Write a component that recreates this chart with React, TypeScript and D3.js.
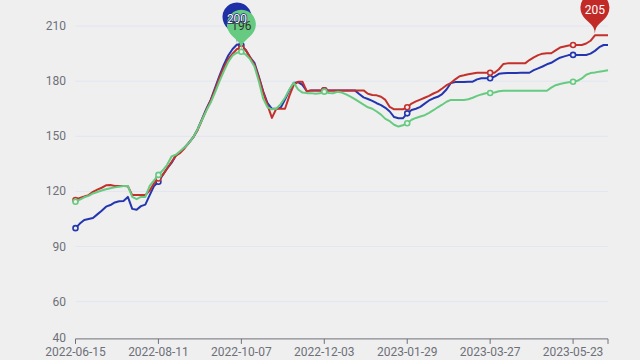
import React from 'react';
import * as d3 from 'd3';

// ---- data (one value every 3 days, starting 2022-06-15) ----
const startDate = '2022-06-15';
const dayStep = 3;
const xTickLabels = ['2022-06-15', '2022-08-11', '2022-10-07', '2022-12-03', '2023-01-29', '2023-03-27', '2023-05-23'];
const yTickValues = [40, 60, 90, 120, 150, 180, 210];

const blueValues = [
  100, 102.5, 104.5, 105, 105.5, 107.5, 109.5, 111.7, 112.6, 114,
  114.6, 114.8, 117, 110.5, 110, 112, 112.8, 118, 123, 125.3,
  129, 132.5, 135.5, 139.5, 141.5, 144, 146.5, 149.5, 154, 159.5,
  165, 170, 176.5, 183, 189, 194, 197.5, 200, 199.5, 197,
  193, 190, 182.5, 174.5, 168, 165, 165, 165.5, 170, 175,
  179, 179.5, 178, 174.5, 175, 175, 175, 175, 175, 175,
  175, 175, 175, 175, 175, 173, 171.2, 170.3, 169.3, 168,
  167, 165.5, 163.5, 160.5, 159.8, 159.8, 162.5, 164.3, 165, 166,
  167.8, 169.5, 170.7, 171.5, 173, 175.5, 179, 179.5, 179.5, 179.6,
  179.7, 179.7, 181, 181.6, 181.6, 181.6, 182.5, 184, 184.3, 184.4,
  184.5, 184.5, 184.6, 184.6, 184.6, 186, 187, 188, 189.2, 190,
  191.5, 192.8, 193.5, 194.2, 194.3, 194.3, 194.3, 194.3, 195, 196.5,
  198.5, 199.7, 199.7,
];

const redValues = [
  115.3, 116.5, 117.2, 118, 119.8, 121, 122, 123.3, 123.5, 123,
  123, 123, 122.8, 118, 118, 118, 118, 120.5, 124.5, 127,
  129, 132.5, 136, 139.5, 141, 143.5, 146.5, 149.5, 153.5, 159,
  164.5, 169.5, 175.5, 182, 187.5, 192, 195, 197.5, 198, 197,
  193, 189, 182, 174, 167, 160, 165, 165, 165, 172,
  178, 179.7, 179.7, 174.5, 175, 175, 175, 175, 175, 175,
  175, 175, 175, 175, 175, 175, 175, 173.2, 172.5, 172.3,
  171.5, 169.8, 166, 164.7, 164.7, 164.7, 165.8, 167.8, 169, 170,
  171, 172, 173.3, 174.3, 176, 177.8, 179, 181, 182.7, 183.2,
  183.8, 184.2, 184.6, 184.6, 184.6, 184.6, 184.6, 186.5, 189.3, 189.7,
  189.7, 189.7, 189.7, 189.7, 191.5, 193, 194.2, 195, 195.2, 195.2,
  196.8, 198.3, 198.9, 199.4, 199.7, 199.7, 199.7, 200.5, 202, 205,
  205, 205, 205,
];

const greenValues = [
  114.4, 115.5, 116.8, 117.6, 118.9, 119.7, 120.5, 121.2, 121.7, 122.2,
  122.6, 123, 123, 117, 115.8, 117, 117, 123, 126, 129,
  131.5, 134.5, 139, 140, 142, 144, 146.5, 149.5, 154, 159,
  164, 168.5, 174, 180, 185.5, 190.5, 194, 195.5, 196, 194.5,
  192, 188, 180, 170.5, 165.8, 164.7, 165, 167.5, 171, 175.5,
  179.2, 175.5, 173.8, 173.5, 173.5, 173.2, 173.4, 174.3, 173.6, 173.4,
  174.2, 173.8, 172.8, 171.6, 170.2, 168.7, 167.2, 165.8, 165, 163.5,
  161.8, 159.5, 158.2, 156.3, 155.3, 156, 157.1, 159, 160, 160.8,
  161.5, 162.8, 164.2, 165.8, 167.2, 168.8, 169.8, 169.8, 169.8, 169.8,
  170.2, 171, 172, 172.8, 173.4, 173.6, 173.8, 174.5, 174.8, 174.8,
  174.8, 174.8, 174.8, 174.8, 174.8, 174.8, 174.8, 174.8, 174.8, 176.5,
  177.8, 178.5, 179, 179.4, 179.7, 180.2, 181.5, 183.5, 184.4, 184.7,
  185.2, 185.5, 185.9,
];

const seriesList = [
  { name: 'blue', values: blueValues, color: '#2336b0', pin: '#1f30a6', labelFill: '#ffffff', labelStroke: '#1a237e' },
  { name: 'red', values: redValues, color: '#c4302b', pin: '#c22a27', labelFill: '#ffffff', labelStroke: 'none' },
  { name: 'green', values: greenValues, color: '#66cb80', pin: '#66cb80', labelFill: '#333333', labelStroke: 'none' },
];

function pinPath(x: number, y: number, r: number, h: number) {
  const dy = (r * r) / (h - r);
  const cy = y - h + r + dy;
  const angle = Math.asin(dy / r);
  const dx = Math.cos(angle) * r;
  const tanX = Math.sin(angle);
  const tanY = Math.cos(angle);
  const cpLen = r * 0.6;
  const cpLen2 = r * 0.7;
  const p = d3.path();
  p.moveTo(x - dx, cy + dy);
  p.arc(x, cy, r, Math.PI - angle, Math.PI * 2 + angle);
  p.bezierCurveTo(x + dx - tanX * cpLen, cy + dy + tanY * cpLen, x, y - cpLen2, x, y);
  p.bezierCurveTo(x, y - cpLen2, x - dx + tanX * cpLen, cy + dy + tanY * cpLen, x - dx, cy + dy);
  p.closePath();
  return { d: p.toString(), cy };
}

export default function App() {
  const W = 640;
  const H = 360;
  const left = 75.5;
  const right = 608;
  const bottom = 338.4;
  const top = 7.7;

  const parse = d3.timeParse('%Y-%m-%d');
  const start = parse(startDate) as Date;
  const dates = blueValues.map((_, i) => d3.timeDay.offset(start, i * dayStep));
  const x = d3.scaleTime().domain([dates[0], dates[dates.length - 1]]).range([left, right]);
  const y = d3.scaleLinear().domain([40, 220]).range([bottom, top]);

  const tickDates = xTickLabels.map((s) => parse(s) as Date);
  const tickIdx = tickDates.map((dt) => Math.round(d3.timeDay.count(start, dt) / dayStep));

  const line = d3
    .line<number>()
    .x((_, i) => x(dates[i]))
    .y((v) => y(v));

  const font = 'Roboto, "Noto Sans", sans-serif';

  const pins = seriesList.map((s) => {
    const maxV = d3.max(s.values) as number;
    const idx = s.values.indexOf(maxV);
    const px = x(dates[idx]);
    const py = y(maxV) - 1.5;
    const pin = pinPath(px, py, 14.5, 47);
    return { s, maxV, px, pin };
  });

  return (
    <svg width={W} height={H} style={{ position: 'fixed', left: 0, top: 0 }} fontFamily={font}>
      <rect x={0} y={0} width={W} height={H} fill="#efefef" />
      {/* grid lines */}
      {yTickValues
        .filter((v) => v !== 40)
        .map((v) => (
          <line key={'g' + v} x1={left} x2={right} y1={y(v)} y2={y(v)} stroke="#e0e6f1" strokeWidth={1} />
        ))}
      {/* y labels */}
      {yTickValues.map((v) => (
        <text key={'yl' + v} x={66} y={y(v)} textAnchor="end" dominantBaseline="central" fontSize={12} fill="#6e7079">
          {v}
        </text>
      ))}
      {/* x axis */}
      <line x1={left} x2={right} y1={bottom + 0.5} y2={bottom + 0.5} stroke="#6e7079" strokeWidth={1} />
      {tickDates.map((dt, i) => (
        <line key={'xt' + i} x1={x(dt)} x2={x(dt)} y1={bottom + 0.5} y2={bottom + 5.5} stroke="#6e7079" strokeWidth={1} />
      ))}
      <line x1={right} x2={right} y1={bottom + 0.5} y2={bottom + 5.5} stroke="#6e7079" strokeWidth={1} />
      {xTickLabels.map((s, i) => (
        <text key={'xl' + i} x={x(tickDates[i])} y={352} textAnchor="middle" dominantBaseline="central" fontSize={12} fill="#6e7079">
          {s}
        </text>
      ))}
      {/* series lines + symbols */}
      {seriesList.map((s) => (
        <g key={s.name}>
          <path d={line(s.values) || ''} fill="none" stroke={s.color} strokeWidth={2} strokeLinejoin="round" />
          {tickIdx.map((ti) => (
            <circle key={ti} cx={x(dates[ti])} cy={y(s.values[ti])} r={2.5} fill="#efefef" stroke={s.color} strokeWidth={1.6} />
          ))}
        </g>
      ))}
      {/* max mark pins */}
      {pins.map((p) => (
        <path key={'pin' + p.s.name} d={p.pin.d} fill={p.s.pin} />
      ))}
      {pins.map((p) => (
        <text
          key={'pl' + p.s.name}
          x={p.px}
          y={p.pin.cy + 2}
          textAnchor="middle"
          dominantBaseline="central"
          fontSize={12}
          fill={p.s.labelFill}
          stroke={p.s.labelStroke}
          strokeWidth={p.s.labelStroke === 'none' ? 0 : 1.5}
          paintOrder="stroke"
        >
          {p.maxV}
        </text>
      ))}
    </svg>
  );
}
